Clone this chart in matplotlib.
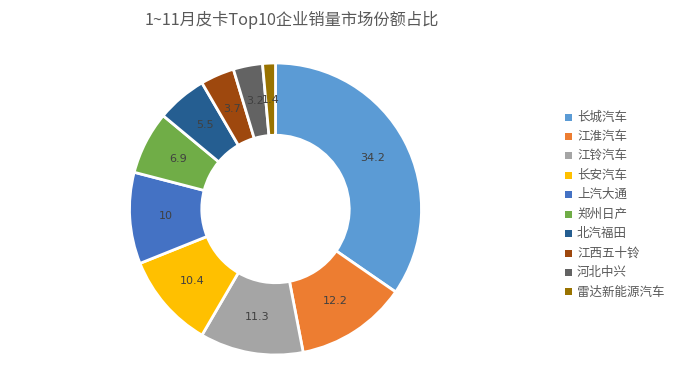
import matplotlib
matplotlib.use("Agg")
import matplotlib.pyplot as plt
from matplotlib.patches import Rectangle
import numpy as np

plt.rcParams['font.family'] = ['Noto Sans CJK SC', 'DejaVu Sans']

categories = ["长城汽车", "江淮汽车", "江铃汽车", "长安汽车", "上汽大通", "郑州日产", "北汽福田", "江西五十铃", "河北中兴", "雷达新能源汽车"]
values = [34.2, 12.2, 11.3, 10.4, 10, 6.9, 5.5, 3.7, 3.2, 1.4]
labels = ["34.2", "12.2", "11.3", "10.4", "10", "6.9", "5.5", "3.7", "3.2", "1.4"]
colors = ["#5B9BD5", "#ED7D31", "#A5A5A5", "#FFC000", "#4472C4", "#70AD47", "#255E91", "#9E480E", "#636363", "#997300"]
title = "1~11月皮卡Top10企业销量市场份额占比"

W, H = 675, 389
fig = plt.figure(figsize=(W/100, H/100), dpi=100)
cx, cy, r = 275.5, 389 - 209, 146
ax = fig.add_axes([(cx - r)/W, (cy - r)/H, 2*r/W, 2*r/H])
wedges, _ = ax.pie(values, colors=colors, startangle=90, counterclock=False,
                   radius=1, wedgeprops=dict(width=0.495, edgecolor='white', linewidth=2))
total = sum(values)
ang = 90
for v, lab in zip(values, labels):
    mid = ang - v/total*360/2
    ang -= v/total*360
    rr = 0.75
    ax.text(rr*np.cos(np.radians(mid)), rr*np.sin(np.radians(mid)), lab,
            ha='center', va='center', fontsize=8, color='#404040', family=['DejaVu Sans'])
ax.set_xlim(-1, 1)
ax.set_ylim(-1, 1)
ax.set_aspect('equal')
ax.axis('off')

fig.text(291.5/W, 1 - 20/H, title, ha='center', va='center', fontsize=11.7, color='#595959')

for i, (c, name) in enumerate(zip(colors, categories)):
    y = 117 + i*19.44
    fig.patches.append(Rectangle(((565)/W, 1 - (y + 3.5)/H), 6.5/W, 7/H,
                                 transform=fig.transFigure, facecolor=c, edgecolor='none'))
    fig.text(577/W, 1 - y/H, name, ha='left', va='center', fontsize=9, color='#595959')

fig.savefig("out.png", dpi=100)
